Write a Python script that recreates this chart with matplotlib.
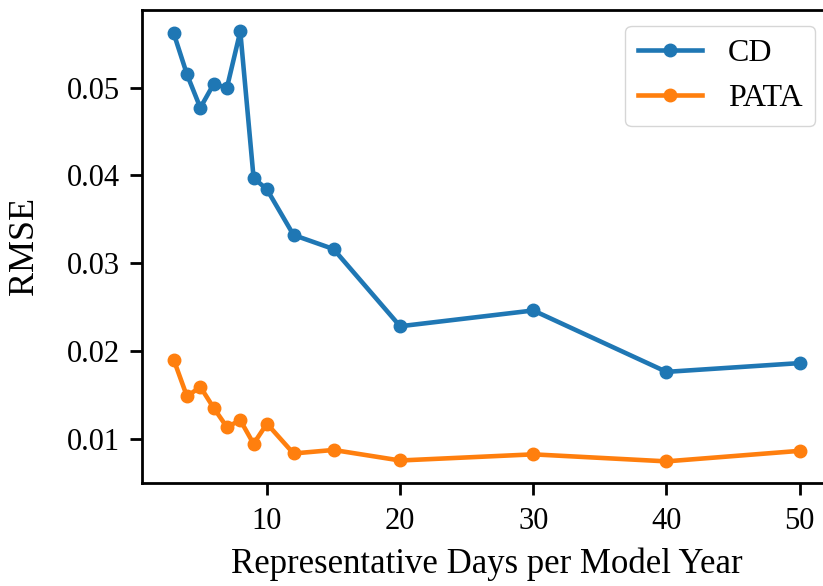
import matplotlib
matplotlib.use("Agg")
import matplotlib.pyplot as plt

plt.rcParams['font.family'] = ['Liberation Serif', 'DejaVu Serif']

days = [3, 4, 5, 6, 7, 8, 9, 10, 12, 15, 20, 30, 40, 50]
rmse_cd = [0.0562, 0.0515, 0.0477, 0.0504, 0.0500, 0.0564, 0.0397, 0.0384,
           0.0332, 0.0316, 0.0228, 0.0246, 0.0176, 0.0186]
rmse_pata = [0.0190, 0.0148, 0.0159, 0.0135, 0.0113, 0.0121, 0.0094, 0.0117,
             0.0083, 0.0087, 0.0075, 0.0082, 0.0074, 0.0086]

fig, ax = plt.subplots(figsize=(8.23, 5.86), dpi=100)
# the right edge of the axes sits just outside the picture, as in the source
fig.subplots_adjust(left=0.173, right=1.0097, top=0.983, bottom=0.176)

ax.plot(days, rmse_cd, marker='o', linewidth=3.3, markersize=9, label='CD')
ax.plot(days, rmse_pata, marker='o', linewidth=3.3, markersize=9, label='PATA')

ax.set_xlabel('Representative Days per Model Year', fontsize=25, labelpad=8)
ax.set_ylabel('RMSE', fontsize=26, labelpad=19)
ax.tick_params(labelsize=22, width=2, length=8.5)
ax.tick_params(axis='x', pad=9)
ax.tick_params(axis='y', pad=7.5)
for s in ax.spines.values():
    s.set_linewidth(2)
ax.legend(fontsize=23, loc='upper right')

fig.savefig('out.png')
